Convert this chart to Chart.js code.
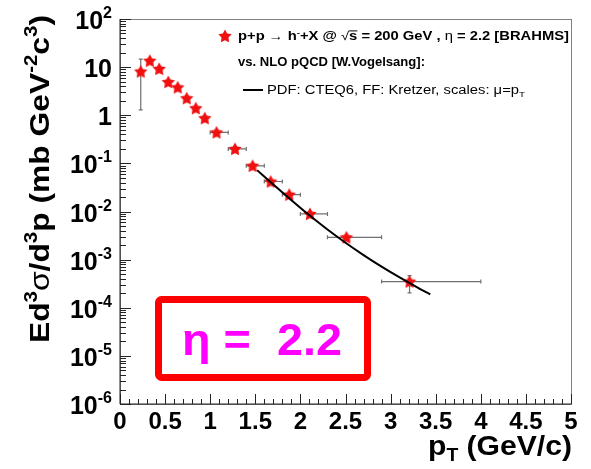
<!DOCTYPE html>
<html>
<head>
<meta charset="utf-8">
<script src="https://cdn.jsdelivr.net/npm/chart.js@4/dist/chart.umd.min.js"></script>
<style>
  html, body { margin: 0; padding: 0; background: #fff; }
</style>
</head>
<body>
<canvas id="myChart" width="591" height="469"></canvas>
<script>
// BRAHMS h- spectrum at eta = 2.2
const ptData    = [0.23, 0.33, 0.435, 0.535, 0.64, 0.74, 0.84, 0.94, 1.07, 1.275, 1.47, 1.67, 1.876, 2.106, 2.51, 3.21];
const sigmaData = [8.1, 13.6, 9.2, 4.9, 3.8, 2.26, 1.40, 0.87, 0.44, 0.20, 0.089, 0.042, 0.0224, 0.0089, 0.0029, 3.5e-4];
const ptLo      = [null, null, null, null, null, null, null, null, 1.0, 1.2, 1.4, 1.6, 1.8, 2.0, 2.3, 2.9];
const ptHi      = [null, null, null, null, null, null, null, null, 1.2, 1.4, 1.6, 1.8, 2.0, 2.3, 2.9, 4.0];
const sigmaLo   = [1.29, null, null, null, null, null, null, null, null, null, null, null, null, null, null, 2.04e-4];
const sigmaHi   = [14.6, null, null, null, null, null, null, null, null, null, null, null, null, null, null, 4.66e-4];

// NLO pQCD (Vogelsang)
const ptCurve    = [1.52, 1.7, 1.9, 2.1, 2.3, 2.5, 2.7, 2.9, 3.1, 3.3, 3.44];
const sigmaCurve = [0.0724, 0.0363, 0.01718, 0.00832, 0.00422, 0.00224, 0.001245, 7.16e-4, 4.27e-4, 2.63e-4, 1.905e-4];

const xTickValues = [0, 0.5, 1, 1.5, 2, 2.5, 3, 3.5, 4, 4.5, 5];
const xTickLabels = ['0', '0.5', '1', '1.5', '2', '2.5', '3', '3.5', '4', '4.5', '5'];
const yTickValues = [1e-6, 1e-5, 1e-4, 1e-3, 1e-2, 1e-1, 1, 10, 100];
const yTickBase   = ['10', '10', '10', '10', '10', '10', '1', '10', '10'];
const yTickExp    = ['-6', '-5', '-4', '-3', '-2', '-1', '', '', '2'];

const FAM = '"Liberation Sans", Arial, Helvetica, sans-serif';

function makeStar(r, color) {
    const c = document.createElement('canvas');
    const s = Math.ceil(r * 2 + 2);
    c.width = s; c.height = s;
    const g = c.getContext('2d');
    g.translate(s / 2, s / 2 + 0.5);
    g.beginPath();
    for (let i = 0; i < 10; i++) {
        const rr = i % 2 === 0 ? r : r * 0.52;
        const a = -Math.PI / 2 + i * Math.PI / 5;
        g.lineTo(rr * Math.cos(a), rr * Math.sin(a));
    }
    g.closePath();
    g.fillStyle = color;
    g.fill();
    return c;
}
const starImg = makeStar(7, '#f01010');

// text with sup/sub parts, optionally squeezed/stretched to a width
function drawRich(ctx, x, y, segs, size, opts) {
    opts = opts || {};
    const font = s => (s.b ? 'bold ' : '') + Math.round((s.sup || s.sub) ? size * 0.65 : size) + 'px ' + FAM;
    let w = 0;
    segs.forEach(s => { ctx.font = font(s); s.w = ctx.measureText(s.t).width; w += s.w; });
    const sx = opts.width ? opts.width / w : 1;
    ctx.save();
    ctx.translate(x, y);
    if (opts.rotate) ctx.rotate(opts.rotate);
    if (opts.align === 'right') ctx.translate(-w * sx, 0);
    else if (opts.align === 'center') ctx.translate(-w * sx / 2, 0);
    ctx.scale(sx, 1);
    ctx.fillStyle = opts.color || '#000';
    ctx.textBaseline = 'alphabetic';
    ctx.textAlign = 'left';
    let cx = 0;
    segs.forEach(s => {
        ctx.font = font(s);
        const dy = s.sup ? -size * 0.42 : (s.sub ? size * 0.22 : 0);
        ctx.fillText(s.t, cx, dy);
        if (s.over) ctx.fillRect(cx, -size * 0.8, s.w, Math.max(1, size * 0.08));
        cx += s.w;
    });
    ctx.restore();
}

const errorBars = {
    id: 'errorBars',
    beforeDatasetsDraw(chart) {
        const { ctx, scales: { x, y } } = chart;
        ctx.save();
        ctx.strokeStyle = '#707070';
        ctx.lineWidth = 1.2;
        ptData.forEach((pt, i) => {
            const px = x.getPixelForValue(pt);
            const py = y.getPixelForValue(sigmaData[i]);
            ctx.beginPath();
            if (ptLo[i] != null) {
                const a = x.getPixelForValue(ptLo[i]), b = x.getPixelForValue(ptHi[i]);
                ctx.moveTo(a, py); ctx.lineTo(b, py);
                ctx.moveTo(a, py - 2); ctx.lineTo(a, py + 2);
                ctx.moveTo(b, py - 2); ctx.lineTo(b, py + 2);
            }
            if (sigmaLo[i] != null) {
                const a = y.getPixelForValue(sigmaLo[i]), b = y.getPixelForValue(sigmaHi[i]);
                ctx.moveTo(px, a); ctx.lineTo(px, b);
                ctx.moveTo(px - 2, a); ctx.lineTo(px + 2, a);
                ctx.moveTo(px - 2, b); ctx.lineTo(px + 2, b);
            }
            ctx.stroke();
        });
        ctx.restore();
    }
};

const frameTicks = {
    id: 'frameTicks',
    beforeDatasetsDraw(chart) {
        const { ctx, chartArea: ca, scales: { x, y } } = chart;
        ctx.save();
        ctx.strokeStyle = '#808080';
        ctx.lineWidth = 1;
        ctx.strokeRect(ca.left + 0.5, ca.top + 0.5, ca.right - ca.left, ca.bottom - ca.top);
        ctx.strokeStyle = '#222';
        ctx.lineWidth = 1.5;
        ctx.beginPath();
        ctx.moveTo(ca.left, ca.top); ctx.lineTo(ca.left, ca.bottom); ctx.lineTo(ca.right, ca.bottom);
        // x ticks every 0.1, major every 0.5
        for (let k = 0; k <= 50; k++) {
            const px = Math.round(x.getPixelForValue(k / 10)) + 0.5;
            const len = k % 5 === 0 ? 10 : 5;
            ctx.moveTo(px, ca.bottom); ctx.lineTo(px, ca.bottom - len);
        }
        // y log ticks + labels
        yTickValues.forEach((v, i) => {
            const py = Math.round(y.getPixelForValue(v)) + 0.5;
            ctx.moveTo(ca.left, py); ctx.lineTo(ca.left + 11, py);
            if (i < yTickValues.length - 1) {
                for (let m = 2; m <= 9; m++) {
                    const pm = Math.round(y.getPixelForValue(v * m)) + 0.5;
                    ctx.moveTo(ca.left, pm); ctx.lineTo(ca.left + 6, pm);
                }
            }
            const segs = [{ t: yTickBase[i], b: 1 }];
            if (yTickExp[i]) segs.push({ t: yTickExp[i], b: 1, sup: 1 });
            drawRich(ctx, ca.left - 8, py + 9, segs, 25, { align: 'right' });
        });
        ctx.lineWidth = 1;
        ctx.stroke();
        ctx.restore();
    }
};

const decorations = {
    id: 'decorations',
    afterDraw(chart) {
        const { ctx } = chart;
        // axis titles
        drawRich(ctx, 572, 455, [
            { t: 'p', b: 1 }, { t: 'T', b: 1, sub: 1 }, { t: ' (GeV/c)', b: 1 }
        ], 28, { align: 'right', width: 144 });
        drawRich(ctx, 49, 179, [
            { t: 'Ed', b: 1 }, { t: '3', b: 1, sup: 1 }, { t: 'σ', b: 0 }, { t: '/d', b: 1 }, { t: '3', b: 1, sup: 1 },
            { t: 'p (mb GeV', b: 1 }, { t: '-2', b: 1, sup: 1 }, { t: 'c', b: 1 }, { t: '3', b: 1, sup: 1 }, { t: ')', b: 1 }
        ], 28, { align: 'center', rotate: -Math.PI / 2, width: 328 });

        // legend
        ctx.drawImage(starImg, 225 - starImg.width / 2, 36 - starImg.height / 2);
        drawRich(ctx, 238, 40, [
            { t: 'p+p ', b: 1 }, { t: '→', b: 0 }, { t: ' h', b: 1 }, { t: '-', b: 1, sup: 1 }, { t: '+X @ ', b: 1 },
            { t: '√', b: 0 }, { t: 's', b: 1, over: 1 }, { t: ' = 200 GeV , ', b: 1 }, { t: 'η', b: 0 }, { t: ' = 2.2 [BRAHMS]', b: 1 }
        ], 12, { width: 331 });
        drawRich(ctx, 238, 66, [{ t: 'vs. NLO pQCD [W.Vogelsang]:', b: 1 }], 12, { width: 187 });
        ctx.save();
        ctx.strokeStyle = '#000'; ctx.lineWidth = 2;
        ctx.beginPath(); ctx.moveTo(243, 90); ctx.lineTo(263, 90); ctx.stroke();
        ctx.restore();
        drawRich(ctx, 267, 94, [
            { t: 'PDF: CTEQ6, FF: Kretzer, scales: μ=p' }, { t: 'T', sub: 1 }
        ], 12, { width: 258 });

        // eta box
        ctx.save();
        ctx.strokeStyle = '#ff0000';
        ctx.lineWidth = 7;
        ctx.lineJoin = 'round';
        ctx.beginPath();
        ctx.roundRect(158.5, 299.5, 209, 78, 3);
        ctx.stroke();
        ctx.restore();
        drawRich(ctx, 262, 355, [{ t: 'η =  2.2', b: 1 }], 45, { align: 'center', width: 160, color: '#ff00ff' });
    }
};

const ctx = document.getElementById('myChart').getContext('2d');
const myChart = new Chart(ctx, {
    data: {
        datasets: [{
            type: 'line',
            label: 'PDF: CTEQ6, FF: Kretzer',
            data: ptCurve.map((p, i) => ({ x: p, y: sigmaCurve[i] })),
            borderColor: '#000',
            borderWidth: 2,
            pointRadius: 0,
            fill: false,
            cubicInterpolationMode: 'monotone',
            order: 0
        }, {
            type: 'scatter',
            label: 'BRAHMS',
            data: ptData.map((p, i) => ({ x: p, y: sigmaData[i] })),
            pointStyle: starImg,
            pointRadius: 7,
            order: 1
        }]
    },
    options: {
        responsive: false,
        animation: false,
        layout: { padding: { left: 0, right: 20, top: 19, bottom: 0 } },
        plugins: { legend: { display: false }, tooltip: { enabled: false } },
        scales: {
            x: {
                type: 'linear', min: 0, max: 5,
                grid: { display: false }, border: { display: false },
                afterBuildTicks: s => { s.ticks = xTickValues.map(v => ({ value: v })); },
                afterFit: s => { s.height = 65; },
                ticks: {
                    callback: (v, i) => xTickLabels[i],
                    font: { family: FAM, size: 24, weight: 'bold' },
                    color: '#000', padding: -4, maxRotation: 0, autoSkip: false
                }
            },
            y: {
                type: 'logarithmic', min: 1e-6, max: 1e2,
                grid: { display: false }, border: { display: false },
                afterBuildTicks: s => { s.ticks = yTickValues.map(v => ({ value: v })); },
                afterFit: s => { s.width = 120; },
                ticks: { display: false }
            }
        }
    },
    plugins: [errorBars, frameTicks, decorations]
});
</script>
</body>
</html>
